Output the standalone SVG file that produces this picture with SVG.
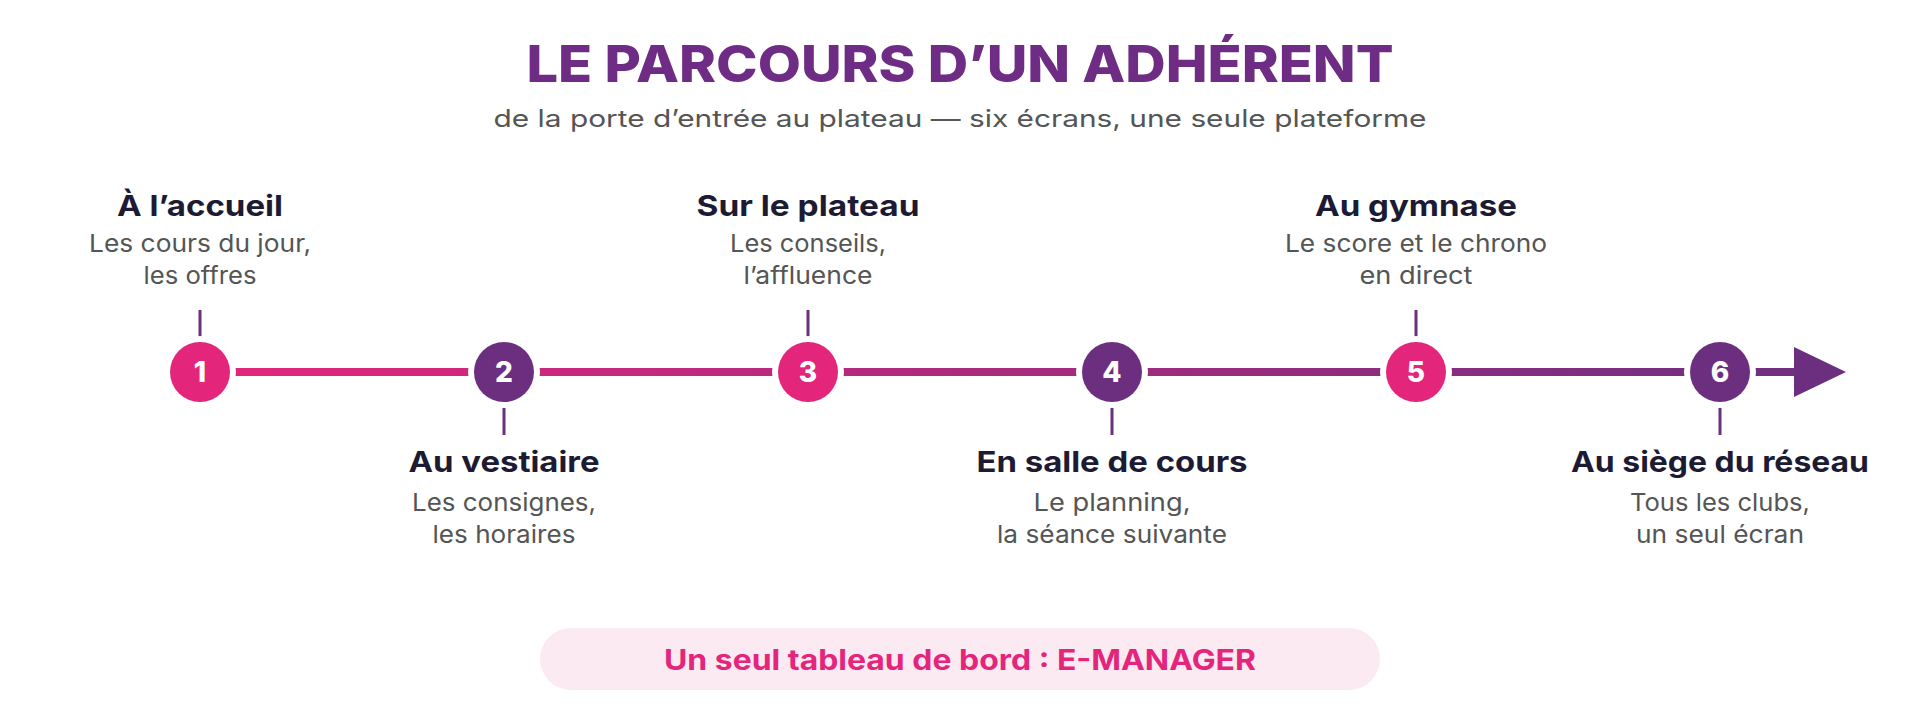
<svg xmlns="http://www.w3.org/2000/svg" width="1920" height="720" viewBox="0 0 1920 720">
  <defs>
    <linearGradient id="lineGrad" gradientUnits="userSpaceOnUse" x1="200" y1="0" x2="1846" y2="0">
      <stop offset="0" stop-color="#E3267B"/>
      <stop offset="1" stop-color="#6C2F80"/>
    </linearGradient>
    <style>
      .title { font-family: "Inter", "Open Sans", "Liberation Sans", sans-serif; font-weight: 800; font-size: 51px; fill: #6E2C84; text-anchor: middle; }
      .subtitle { font-family: "Inter", "Open Sans", "Liberation Sans", sans-serif; font-weight: 400; font-size: 24px; fill: #555555; text-anchor: middle; }
      .head { font-family: "Inter", "Open Sans", "Liberation Sans", sans-serif; font-weight: 700; font-size: 29px; fill: #1C1B33; text-anchor: middle; }
      .desc { font-family: "Inter", "Open Sans", "Liberation Sans", sans-serif; font-weight: 400; font-size: 24.5px; fill: #555555; text-anchor: middle; }
      .num { font-family: "Inter", "Open Sans", "Liberation Sans", sans-serif; font-weight: 800; font-size: 28px; fill: #FFFFFF; text-anchor: middle; }
      .pink { fill: #E3267B; }
      .purple { fill: #6C2F80; }
      .halo { fill: #FFFFFF; }
      .tick { stroke: #6C2F80; stroke-width: 3; }
      .pilltext { font-family: "Inter", "Open Sans", "Liberation Sans", sans-serif; font-weight: 700; font-size: 28px; fill: #E3267B; text-anchor: middle; }
    </style>
  </defs>
  <rect width="1920" height="720" fill="#FFFFFF"/>

  <g id="header">
    <text class="title" x="960" y="82" textLength="867" lengthAdjust="spacingAndGlyphs">LE PARCOURS D’UN ADHÉRENT</text>
    <text class="subtitle" x="960" y="127" textLength="933" lengthAdjust="spacingAndGlyphs">de la porte d’entrée au plateau — six écrans, une seule plateforme</text>
  </g>

  <g id="connectors">
    <line x1="200" y1="372" x2="1796" y2="372" stroke="url(#lineGrad)" stroke-width="8"/>
    <polygon points="1794,347 1846,372 1794,397" fill="#6C2F80"/>
    <line class="tick" x1="200" y1="310" x2="200" y2="337"/>
    <line class="tick" x1="504" y1="408" x2="504" y2="435"/>
    <line class="tick" x1="808" y1="310" x2="808" y2="337"/>
    <line class="tick" x1="1112" y1="408" x2="1112" y2="435"/>
    <line class="tick" x1="1416" y1="310" x2="1416" y2="337"/>
    <line class="tick" x1="1720" y1="408" x2="1720" y2="435"/>
  </g>

  <g id="step1">
    <circle class="halo" cx="200" cy="372" r="36"/>
    <circle class="pink" cx="200" cy="372" r="30"/>
    <text class="num" x="200" y="382">1</text>
    <text class="head" x="200" y="216" textLength="166" lengthAdjust="spacingAndGlyphs">À l’accueil</text>
    <text class="desc" x="200" y="252" textLength="222" lengthAdjust="spacingAndGlyphs">Les cours du jour,</text>
    <text class="desc" x="200" y="284" textLength="113" lengthAdjust="spacingAndGlyphs">les offres</text>
  </g>

  <g id="step2">
    <circle class="halo" cx="504" cy="372" r="36"/>
    <circle class="purple" cx="504" cy="372" r="30"/>
    <text class="num" x="504" y="382">2</text>
    <text class="head" x="504" y="472" textLength="191" lengthAdjust="spacingAndGlyphs">Au vestiaire</text>
    <text class="desc" x="504" y="511" textLength="184" lengthAdjust="spacingAndGlyphs">Les consignes,</text>
    <text class="desc" x="504" y="543" textLength="143" lengthAdjust="spacingAndGlyphs">les horaires</text>
  </g>

  <g id="step3">
    <circle class="halo" cx="808" cy="372" r="36"/>
    <circle class="pink" cx="808" cy="372" r="30"/>
    <text class="num" x="808" y="382">3</text>
    <text class="head" x="808" y="216" textLength="223" lengthAdjust="spacingAndGlyphs">Sur le plateau</text>
    <text class="desc" x="808" y="252" textLength="156" lengthAdjust="spacingAndGlyphs">Les conseils,</text>
    <text class="desc" x="808" y="284" textLength="129" lengthAdjust="spacingAndGlyphs">l’affluence</text>
  </g>

  <g id="step4">
    <circle class="halo" cx="1112" cy="372" r="36"/>
    <circle class="purple" cx="1112" cy="372" r="30"/>
    <text class="num" x="1112" y="382">4</text>
    <text class="head" x="1112" y="472" textLength="271" lengthAdjust="spacingAndGlyphs">En salle de cours</text>
    <text class="desc" x="1112" y="511" textLength="157" lengthAdjust="spacingAndGlyphs">Le planning,</text>
    <text class="desc" x="1112" y="543" textLength="230" lengthAdjust="spacingAndGlyphs">la séance suivante</text>
  </g>

  <g id="step5">
    <circle class="halo" cx="1416" cy="372" r="36"/>
    <circle class="pink" cx="1416" cy="372" r="30"/>
    <text class="num" x="1416" y="382">5</text>
    <text class="head" x="1416" y="216" textLength="202" lengthAdjust="spacingAndGlyphs">Au gymnase</text>
    <text class="desc" x="1416" y="252" textLength="262" lengthAdjust="spacingAndGlyphs">Le score et le chrono</text>
    <text class="desc" x="1416" y="284" textLength="113" lengthAdjust="spacingAndGlyphs">en direct</text>
  </g>

  <g id="step6">
    <circle class="halo" cx="1720" cy="372" r="36"/>
    <circle class="purple" cx="1720" cy="372" r="30"/>
    <text class="num" x="1720" y="382">6</text>
    <text class="head" x="1720" y="472" textLength="298" lengthAdjust="spacingAndGlyphs">Au siège du réseau</text>
    <text class="desc" x="1720" y="511" textLength="180" lengthAdjust="spacingAndGlyphs">Tous les clubs,</text>
    <text class="desc" x="1720" y="543" textLength="168" lengthAdjust="spacingAndGlyphs">un seul écran</text>
  </g>

  <g id="footer">
    <rect x="540" y="628" width="840" height="62" rx="31" ry="31" fill="#FCEAF2"/>
    <text class="pilltext" x="960" y="670" textLength="592" lengthAdjust="spacingAndGlyphs">Un seul tableau de bord : E-MANAGER</text>
  </g>
</svg>
